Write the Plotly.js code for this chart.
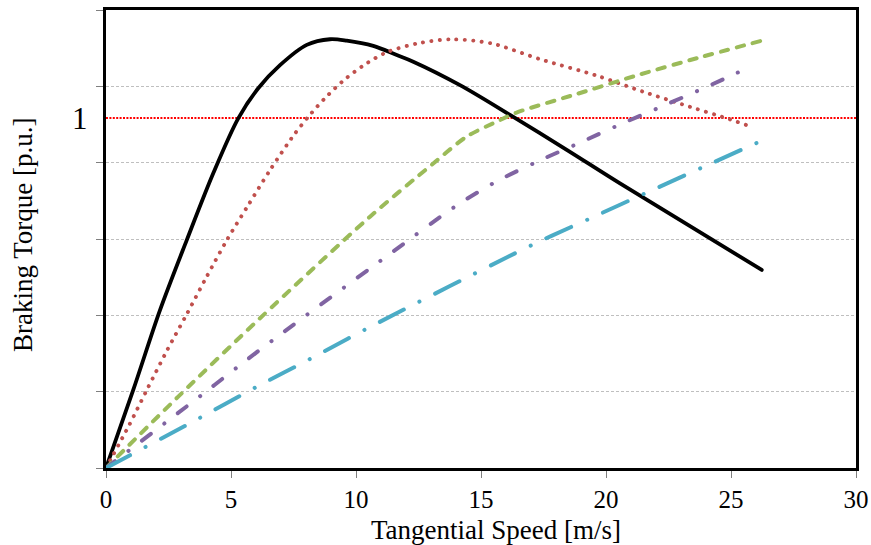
<!DOCTYPE html>
<html>
<head>
<meta charset="utf-8">
<script src="https://cdn.plot.ly/plotly-3.0.1.min.js"></script>
<style>
  html, body { margin: 0; padding: 0; background: #fff; }
  #chart { width: 871px; height: 545px; }
  .scatterlayer .js-line { stroke-linecap: round; stroke-linejoin: round; }
</style>
</head>
<body>
<div id="chart"></div>
<script>
// ---- data ----
const blackX  = [0, 1.09, 2.16, 3.23, 4.29, 5.29, 6.09, 6.96, 8.03, 8.96, 9.63, 10.69, 11.63, 12.29, 14.16, 16.16, 18.43, 20.56, 26.23];
const blackY  = [0, 0.223, 0.451, 0.651, 0.842, 0.999, 1.085, 1.151, 1.209, 1.225, 1.221, 1.206, 1.180, 1.161, 1.094, 1.009, 0.909, 0.813, 0.566];

const redX    = [0, 0.93, 1.69, 2.45, 3.25, 4.03, 4.85, 5.69, 6.56, 7.51, 8.12, 8.79, 9.53, 10.32, 11.2, 12.45, 13.83, 15.43, 17.36, 19.63, 21.49, 23.36, 24.96, 25.89];
const redY    = [0, 0.123, 0.231, 0.337, 0.442, 0.547, 0.653, 0.751, 0.851, 0.951, 1.006, 1.059, 1.109, 1.151, 1.187, 1.213, 1.225, 1.213, 1.168, 1.121, 1.075, 1.032, 0.996, 0.973];

const greenX  = [0, 2.89, 6.16, 10.56, 13.09, 14.43, 15.76, 16.4, 18.76, 21.29, 23.69, 26.23];
const greenY  = [0, 0.204, 0.428, 0.718, 0.870, 0.947, 0.994, 1.015, 1.067, 1.123, 1.172, 1.221];

const purpleX = [0, 3.83, 5.27, 6.72, 11.15, 14.11, 15.68, 17.33, 19.0, 20.67, 22.36, 24.03, 25.69];
const purpleY = [0, 0.209, 0.289, 0.368, 0.601, 0.754, 0.821, 0.878, 0.931, 0.985, 1.037, 1.089, 1.144];

const cyanX   = [0, 3.8, 6.0, 8.2, 10.4, 17.09, 19.36, 21.63, 23.92, 26.19];
const cyanY   = [0, 0.145, 0.231, 0.313, 0.397, 0.639, 0.713, 0.787, 0.861, 0.934];

const refLevel = 1;              // rated torque line
const xTicks = [0, 5, 10, 15, 20, 25, 30];
const yMax = 1.3086;
const yGridCount = 6;

const xTitle = "Tangential Speed [m/s]";
const yTitle = "Braking Torque [p.u.]";
const refLabel = "1";
// --------------------------------------

const yTickVals = [];
for (let i = 0; i <= yGridCount; i++) yTickVals.push(yMax * i / yGridCount);

const FONT = "Liberation Serif, Times New Roman, serif";

const traces = [
  {x: blackX, y: blackY, mode: 'lines', line: {color: '#000000', width: 3.8, shape: 'spline', smoothing: 0.9}},
  {x: redX, y: redY, mode: 'lines', line: {color: '#C0504D', width: 3.9, dash: '0.1px,8.3px', shape: 'spline', smoothing: 0.8}},
  {x: greenX, y: greenY, mode: 'lines', line: {color: '#9BBB59', width: 4, dash: '7.5px,9px', shape: 'spline', smoothing: 0.8}},
  {x: purpleX, y: purpleY, mode: 'lines', line: {color: '#8064A2', width: 4, dash: '11px,17px,0.1px,17px', shape: 'spline', smoothing: 0.8}},
  {x: cyanX, y: cyanY, mode: 'lines', line: {color: '#4BACC6', width: 4, dash: '27px,17.5px,0.1px,17.5px', shape: 'spline', smoothing: 0.8}}
];

const layout = {
  width: 871, height: 545,
  margin: {l: 106, r: 15, t: 10, b: 77},
  paper_bgcolor: '#ffffff', plot_bgcolor: '#ffffff',
  showlegend: false,
  font: {family: FONT, color: '#000000'},
  xaxis: {
    range: [0, 30], tickvals: xTicks, ticktext: xTicks.map(String),
    showgrid: false, zeroline: false,
    showline: true, linecolor: '#000000', linewidth: 3, mirror: true,
    ticks: 'outside', ticklen: 7, tickwidth: 1, tickcolor: '#7f7f7f',
    tickfont: {family: FONT, size: 25, color: '#000000'}
  },
  yaxis: {
    range: [0, yMax], tickvals: yTickVals, showticklabels: false,
    showgrid: true, gridcolor: '#BFBFBF', gridwidth: 1, griddash: '3px,2px',
    zeroline: false,
    showline: true, linecolor: '#000000', linewidth: 3, mirror: true,
    ticks: 'outside', ticklen: 7, tickwidth: 1, tickcolor: '#7f7f7f'
  },
  shapes: [
    {type: 'line', xref: 'paper', yref: 'y', x0: 0, x1: 1, y0: refLevel, y1: refLevel,
     line: {color: '#FF0000', width: 2, dash: '2px,1.4px'}, layer: 'below'}
  ],
  annotations: [
    {text: refLabel, xref: 'paper', yref: 'y', x: 0, y: refLevel, xanchor: 'right', yanchor: 'middle',
     xshift: -16, showarrow: false, font: {family: FONT, size: 31, color: '#000000'}},
    {text: xTitle, xref: 'paper', yref: 'paper', x: (496 - 106) / 750, y: 0, xanchor: 'center', yanchor: 'middle',
     yshift: -62, showarrow: false, font: {family: FONT, size: 27, color: '#000000'}},
    {text: yTitle, xref: 'paper', yref: 'paper', x: 0, y: 0.5, xanchor: 'center', yanchor: 'middle',
     xshift: -83, yshift: 4, textangle: -90, showarrow: false, font: {family: FONT, size: 27, color: '#000000'}}
  ]
};

Plotly.newPlot('chart', traces, layout, {staticPlot: true, displayModeBar: false});
</script>
</body>
</html>
